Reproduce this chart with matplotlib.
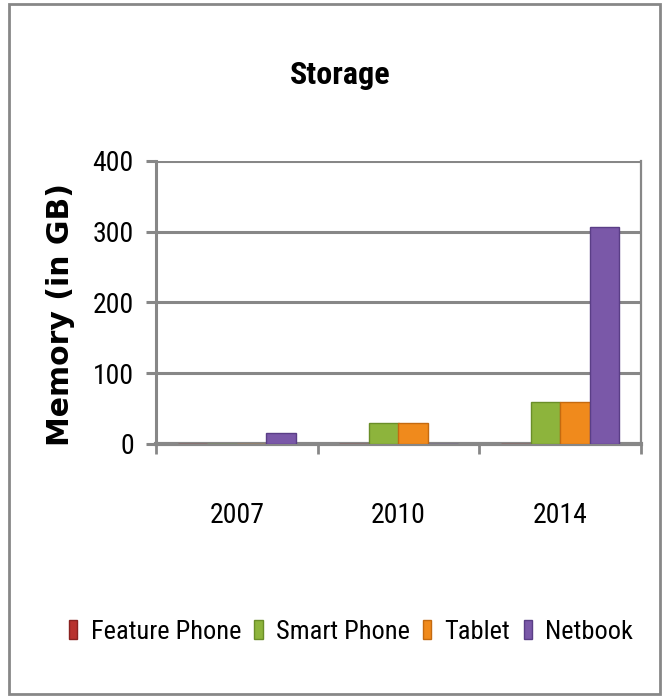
import matplotlib.pyplot as plt
import numpy as np
from matplotlib import font_manager
from matplotlib.patches import Rectangle

years = ['2007', '2010', '2014']
series = ['Feature Phone', 'Smart Phone', 'Tablet', 'Netbook']
feature_phone = [0, 0, 0]
smart_phone = [0, 29, 60]
tablet = [0, 29, 60]
netbook = [16, 0, 306]
colors = ['#b8322e', '#8db43c', '#f08a1c', '#7a58a8']
edges = ['#8a2220', '#6a8e28', '#c46a10', '#5a3e86']

# pick a narrow font if one is installed (Calibri look-alike), else Lato
installed = {f.name for f in font_manager.fontManager.ttflist}
narrow = 'Lato'
for cand in ['Liberation Sans Narrow', 'Roboto Condensed', 'Open Sans Condensed']:
    if cand in installed:
        narrow = cand
        break
plt.rcParams['font.family'] = [narrow, 'DejaVu Sans']
grey = '#878787'

fig = plt.figure(figsize=(6.69, 6.96), dpi=100)
ax = fig.add_axes([156 / 669, 1 - 444 / 696, (641 - 156) / 669, (444 - 160.7) / 696])

x = np.arange(len(years))
w = 0.183
data = [feature_phone, smart_phone, tablet, netbook]
for i, vals in enumerate(data):
    ax.bar(x + (i - 1.5) * w, vals, w, color=colors[i], edgecolor=edges[i],
           linewidth=1, label=series[i], zorder=3)

ax.set_xlim(-0.5, 2.5)
ax.set_ylim(0, 400)
ax.set_yticks([0, 100, 200, 300, 400])
ax.yaxis.grid(True, color=grey, linewidth=2.2, zorder=0)
ax.set_axisbelow(True)

ax.set_xticks([-0.5, 0.5, 1.5, 2.5])
ax.set_xticklabels([])
ax.set_xticks(x, minor=True)
ax.set_xticklabels(years, minor=True, fontsize=20)
ax.tick_params(axis='x', which='major', length=7, width=2, color=grey, direction='out')
ax.tick_params(axis='x', which='minor', length=0, pad=42)
ax.tick_params(axis='y', length=7, width=2.2, color=grey, labelsize=20, pad=9)

for s in ['left', 'bottom']:
    ax.spines[s].set_color(grey)
    ax.spines[s].set_linewidth(2.2)
ax.spines['bottom'].set_linewidth(3)
ax.spines['right'].set_color(grey)
ax.spines['right'].set_linewidth(1.6)
ax.spines['top'].set_visible(False)

fig.text(340 / 669, 1 - 75 / 696, 'Storage', ha='center', va='center',
         fontsize=23, fontweight='bold')
fig.text(61 / 669, 1 - 315 / 696, 'Memory (in GB)', ha='center', va='center',
         rotation=90, fontsize=21.5, fontweight='bold', family='DejaVu Sans')

fig.legend(loc='center', bbox_to_anchor=(351 / 669, 1 - 632 / 696), ncol=4,
           frameon=False, fontsize=19, handlelength=0.32, handleheight=0.75,
           handletextpad=0.5, columnspacing=0.5)

fig.patches.append(Rectangle((9 / 669, 1 - 694 / 696), 651 / 669, 690 / 696,
                             transform=fig.transFigure, fill=False,
                             edgecolor=grey, linewidth=2))

fig.savefig('out.png', dpi=100)
